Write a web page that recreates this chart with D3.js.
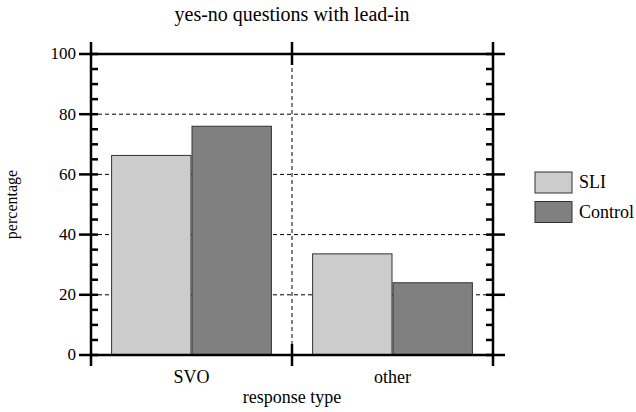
<!DOCTYPE html>
<html>
<head>
<meta charset="utf-8">
<script src="https://cdn.jsdelivr.net/npm/d3@7"></script>
<style>
  body { margin: 0; background: #fff; }
</style>
</head>
<body>
<div id="chart"></div>
<script>
const categories = ["SVO", "other"];
const groups = ["SLI", "Control"];
const sliValues = [66.3, 33.6];
const controlValues = [76, 24];
const majorTicks = [0, 20, 40, 60, 80, 100];

const colors = { SLI: "#cccccc", Control: "#808080" };

const width = 636, height = 412;
const margin = { top: 54, right: 143, bottom: 57, left: 91 };
const innerW = width - margin.left - margin.right;
const innerH = height - margin.top - margin.bottom;

const svg = d3.select("#chart")
  .append("svg")
  .attr("width", width)
  .attr("height", height)
  .attr("font-family", "'Liberation Serif', 'Times New Roman', serif")
  .attr("fill", "#000");

const g = svg.append("g")
  .attr("transform", `translate(${margin.left}, ${margin.top})`);

const x = d3.scaleBand().domain(categories).range([0, innerW]);
const xInner = d3.scaleBand().domain(groups).range([0, x.bandwidth() * 0.8]);
const y = d3.scaleLinear().domain([0, 100]).range([innerH, 0]);

// dashed grid lines
g.selectAll(".hgrid")
  .data(majorTicks.filter(t => t > 0 && t < 100))
  .enter()
  .append("line")
  .attr("x1", 0).attr("x2", innerW)
  .attr("y1", d => y(d)).attr("y2", d => y(d))
  .attr("stroke", "#000")
  .attr("stroke-width", 1)
  .attr("stroke-dasharray", "4 3");

g.append("line")
  .attr("x1", x.step()).attr("x2", x.step())
  .attr("y1", 0).attr("y2", innerH)
  .attr("stroke", "#000")
  .attr("stroke-width", 1)
  .attr("stroke-dasharray", "4 3");

// bars
const data = categories.map((c, i) => ({ cat: c, SLI: sliValues[i], Control: controlValues[i] }));

const barGroups = g.selectAll(".cat")
  .data(data)
  .enter()
  .append("g")
  .attr("transform", d => `translate(${x(d.cat) + x.bandwidth() * 0.1}, 0)`);

barGroups.selectAll("rect")
  .data(d => groups.map(k => ({ key: k, value: d[k] })))
  .enter()
  .append("rect")
  .attr("x", d => xInner(d.key) + 0.5)
  .attr("y", d => y(d.value))
  .attr("width", xInner.bandwidth() - 1)
  .attr("height", d => innerH - y(d.value))
  .attr("fill", d => colors[d.key])
  .attr("stroke", "#333")
  .attr("stroke-width", 1);

// frame
const axisW = 2.5;
g.append("line").attr("x1", -1).attr("x2", innerW + 1).attr("y1", 0).attr("y2", 0)
  .attr("stroke", "#000").attr("stroke-width", axisW);
g.append("line").attr("x1", -1).attr("x2", innerW + 1).attr("y1", innerH).attr("y2", innerH)
  .attr("stroke", "#000").attr("stroke-width", axisW);
g.append("line").attr("x1", 0).attr("x2", 0).attr("y1", -12).attr("y2", innerH + 11)
  .attr("stroke", "#000").attr("stroke-width", axisW);
g.append("line").attr("x1", innerW).attr("x2", innerW).attr("y1", -12).attr("y2", innerH + 11)
  .attr("stroke", "#000").attr("stroke-width", axisW);

// category separator ticks
g.append("line").attr("x1", x.step()).attr("x2", x.step()).attr("y1", -12).attr("y2", 11)
  .attr("stroke", "#000").attr("stroke-width", axisW);
g.append("line").attr("x1", x.step()).attr("x2", x.step()).attr("y1", innerH - 11).attr("y2", innerH + 11)
  .attr("stroke", "#000").attr("stroke-width", axisW);

// y ticks
const minorTicks = d3.range(0, 101, 5).filter(t => t % 20 !== 0);

g.selectAll(".major")
  .data(majorTicks)
  .enter()
  .append("g")
  .each(function (d) {
    const s = d3.select(this);
    s.append("line").attr("x1", -12).attr("x2", 7).attr("y1", y(d)).attr("y2", y(d))
      .attr("stroke", "#000").attr("stroke-width", axisW);
    s.append("line").attr("x1", innerW - 7).attr("x2", innerW + 12).attr("y1", y(d)).attr("y2", y(d))
      .attr("stroke", "#000").attr("stroke-width", axisW);
  });

g.selectAll(".minor")
  .data(minorTicks)
  .enter()
  .append("g")
  .each(function (d) {
    const s = d3.select(this);
    s.append("line").attr("x1", 0).attr("x2", 7).attr("y1", y(d)).attr("y2", y(d))
      .attr("stroke", "#000").attr("stroke-width", axisW);
    s.append("line").attr("x1", innerW - 7).attr("x2", innerW).attr("y1", y(d)).attr("y2", y(d))
      .attr("stroke", "#000").attr("stroke-width", axisW);
  });

g.selectAll(".ylabel")
  .data(majorTicks)
  .enter()
  .append("text")
  .attr("x", -15)
  .attr("y", d => y(d))
  .attr("dy", "0.32em")
  .attr("text-anchor", "end")
  .attr("font-size", 17)
  .text(d => d);

g.selectAll(".xlabel")
  .data(categories)
  .enter()
  .append("text")
  .attr("x", d => x(d) + x.bandwidth() / 2)
  .attr("y", innerH + 28)
  .attr("text-anchor", "middle")
  .attr("font-size", 18)
  .text(d => d);

// titles
svg.append("text")
  .attr("x", margin.left + innerW / 2)
  .attr("y", 21)
  .attr("text-anchor", "middle")
  .attr("font-size", 20)
  .text("yes-no questions with lead-in");

svg.append("text")
  .attr("x", margin.left + innerW / 2)
  .attr("y", 403)
  .attr("text-anchor", "middle")
  .attr("font-size", 18)
  .text("response type");

svg.append("text")
  .attr("transform", `translate(17, ${margin.top + innerH / 2}) rotate(-90)`)
  .attr("text-anchor", "middle")
  .attr("font-size", 16)
  .text("percentage");

// legend
const legend = svg.selectAll(".legend")
  .data(groups)
  .enter()
  .append("g")
  .attr("transform", (d, i) => `translate(535, ${172 + i * 29.5})`);

legend.append("rect")
  .attr("width", 37).attr("height", 21)
  .attr("fill", d => colors[d])
  .attr("stroke", "#333").attr("stroke-width", 1);

legend.append("text")
  .attr("x", 44)
  .attr("y", 16)
  .attr("font-size", 18)
  .text(d => d);
</script>
</body>
</html>
